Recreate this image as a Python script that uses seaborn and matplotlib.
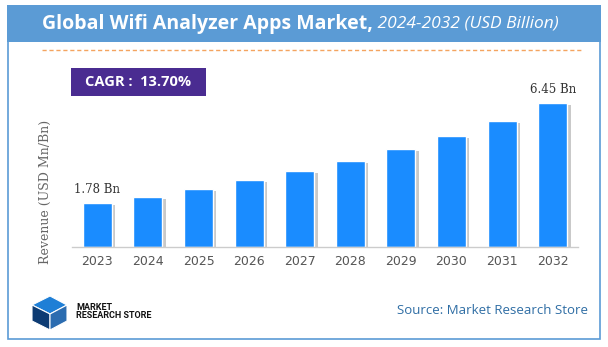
import matplotlib
matplotlib.use("Agg")
import matplotlib.pyplot as plt
import matplotlib.patheffects as pe
from matplotlib.patches import Rectangle, Polygon
import seaborn as sns
import pandas as pd

years = ["2023", "2024", "2025", "2026", "2027", "2028", "2029", "2030", "2031", "2032"]
revenue = [1.78, 2.06, 2.41, 2.83, 3.26, 3.73, 4.29, 4.92, 5.62, 6.45]
label_first = "1.78 Bn"
label_last = "6.45 Bn"
title_bold = "Global Wifi Analyzer Apps Market,"
title_ital = " 2024-2032 (USD Billion)"
cagr_text = "CAGR :  13.70%"
y_label = "Revenue (USD Mn/Bn)"
source_text = "Source: Market Research Store"

sns.set_theme(style="white")
plt.rcParams["font.family"] = ["DejaVu Sans"]

W, H = 608, 347
fig = plt.figure(figsize=(W / 100, H / 100), dpi=100)
fig.patch.set_facecolor("white")

def fx(x):
    return x / W

def fy(y):
    return 1 - y / H

# outer border
fig.add_artist(Rectangle((fx(8), fy(339)), fx(600 - 8), (339 - 8) / H,
                         transform=fig.transFigure, fill=False,
                         edgecolor="#5b9bd5", linewidth=1.2))
# title bar
fig.add_artist(Rectangle((fx(7), fy(41.5)), fx(601 - 7), (41.5 - 5) / H,
                         transform=fig.transFigure, facecolor="#5b9bd5",
                         edgecolor="none"))
t1 = fig.text(fx(42), fy(24), title_bold, color="white", fontsize=14,
              fontweight="bold", family="Open Sans", va="center", ha="left")
fig.canvas.draw()
bb = t1.get_window_extent()
fig.text(bb.x1 / W, fy(24), title_ital, color="white", fontsize=12.5,
         style="italic", family="Open Sans", va="center", ha="left")

# dashed orange line
fig.add_artist(plt.Line2D([fx(42), fx(582)], [fy(50), fy(50)],
                          transform=fig.transFigure, color="#f4a460",
                          linestyle=(0, (3, 2)), linewidth=1.0))

# CAGR box
fig.add_artist(Rectangle((fx(71), fy(96)), fx(206 - 71), (96 - 68) / H,
                         transform=fig.transFigure, facecolor="#4a2c91",
                         edgecolor="none"))
fig.text(fx(138.5), fy(82), cagr_text, color="white", fontsize=10.5,
         fontweight="bold", family="Open Sans", ha="center", va="center")

# chart axes
ymin = -0.3
ax = fig.add_axes([fx(72), fy(247), fx(578 - 72), (247 - 60) / H])
df = pd.DataFrame({"year": years, "revenue": revenue})
sns.barplot(data=df, x="year", y="revenue", color="#1a8cff", saturation=1,
            width=0.57, ax=ax)
for p in ax.patches:
    # let bars rest on the axis baseline
    p.set_height(p.get_height() - ymin)
    p.set_y(ymin)
    p.set_path_effects([pe.SimplePatchShadow(offset=(2.5, -1.5),
                                             shadow_rgbFace="#888888",
                                             alpha=0.45),
                        pe.Normal()])
ax.set_xlim(-0.5, 9.5)
ax.set_ylim(ymin, 8.49)
ax.set_xlabel("")
ax.set_ylabel("")
ax.set_yticks([])
for s in ["top", "right", "left"]:
    ax.spines[s].set_visible(False)
ax.spines["bottom"].set_color("#cccccc")
ax.spines["bottom"].set_linewidth(1.0)
ax.tick_params(axis="x", length=0, pad=6, labelsize=9, labelcolor="#555555")
ax.patch.set_alpha(0)

ax.annotate(label_first, (0, revenue[0]), xytext=(0, 5),
            textcoords="offset points", ha="center", va="bottom",
            fontsize=8.5, family="DejaVu Serif", color="#333333")
ax.annotate(label_last, (9, revenue[-1]), xytext=(0, 5),
            textcoords="offset points", ha="center", va="bottom",
            fontsize=8.5, family="DejaVu Serif", color="#333333")

fig.text(fx(45), fy(192), y_label, rotation=90, ha="center", va="center",
         fontsize=9, family="DejaVu Serif", color="#666666")

# logo
c1, c2 = "#1f7fd6", "#0d3b73"
logo = [
    [(32, 305), (50, 296), (67, 305), (50, 314)],
    [(32, 305), (50, 314), (50, 330), (32, 321)],
    [(50, 314), (67, 305), (67, 321), (50, 330)],
]
cols = [c1, c2, "#2b6cb0"]
for pts, c in zip(logo, cols):
    fig.add_artist(Polygon([(fx(x), fy(y)) for x, y in pts], closed=True,
                           transform=fig.transFigure, facecolor=c,
                           edgecolor="white", linewidth=0.8))
logo_font = ["Liberation Sans Narrow", "Roboto"]
fig.text(fx(76), fy(307), "MARKET", fontsize=6.5, fontweight="bold",
         family=logo_font, color="#111111", va="center", ha="left")
fig.text(fx(76), fy(316), "RESEARCH STORE", fontsize=6.5, fontweight="bold",
         family=logo_font, color="#111111", va="center", ha="left")

fig.text(fx(588), fy(310), source_text, fontsize=9.5, family="Open Sans",
         color="#2e6da4", ha="right", va="center")

fig.savefig("out.png", dpi=100)
